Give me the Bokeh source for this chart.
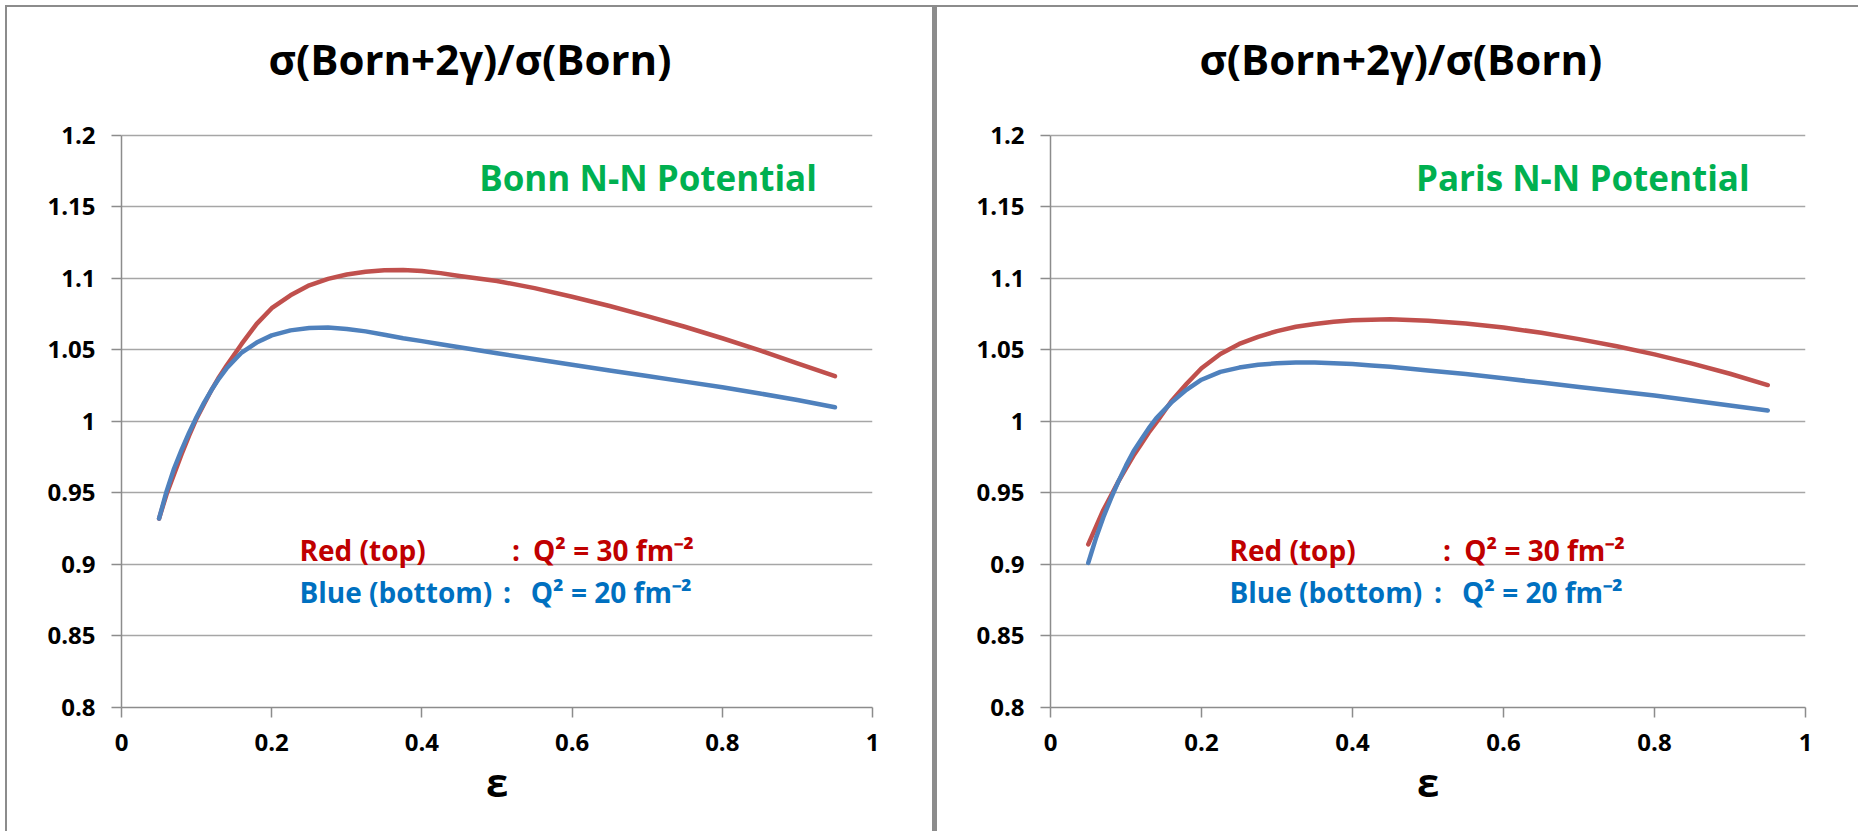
from bokeh.plotting import figure
from bokeh.layouts import row
from bokeh.models import Range1d, FixedTicker, Label
from bokeh.embed import file_html
from bokeh.resources import INLINE

# ---------------- data ----------------
eps = [0.05, 0.06, 0.07, 0.08, 0.09, 0.10, 0.11, 0.12, 0.13, 0.14, 0.16, 0.18,
       0.20, 0.225, 0.25, 0.275, 0.30, 0.325, 0.35, 0.375, 0.40, 0.425, 0.45,
       0.50, 0.55, 0.60, 0.65, 0.70, 0.75, 0.80, 0.85, 0.90, 0.95]

bonn_q30 = [0.932, 0.949, 0.963, 0.977, 0.990, 1.002, 1.012, 1.022, 1.031, 1.039, 1.054, 1.068,
            1.079, 1.088, 1.095, 1.0995, 1.1025, 1.1045, 1.1055, 1.1057, 1.1050, 1.1035, 1.1015,
            1.098, 1.093, 1.087, 1.0805, 1.0735, 1.066, 1.058, 1.0495, 1.0405, 1.0315]
bonn_q20 = [0.932, 0.951, 0.967, 0.980, 0.992, 1.003, 1.013, 1.022, 1.030, 1.037, 1.048, 1.055,
            1.060, 1.0635, 1.0652, 1.0655, 1.0645, 1.0628, 1.0605, 1.058, 1.056, 1.0538, 1.0517,
            1.0475, 1.0435, 1.0395, 1.0355, 1.0316, 1.0277, 1.0237, 1.0194, 1.0148, 1.0098]

paris_q30 = [0.914, 0.926, 0.938, 0.948, 0.958, 0.967, 0.976, 0.984, 0.992, 0.999, 1.014, 1.026,
             1.037, 1.047, 1.054, 1.059, 1.063, 1.066, 1.068, 1.0695, 1.0705, 1.0710, 1.0712,
             1.0703, 1.0683, 1.0655, 1.0618, 1.0574, 1.0524, 1.0467, 1.0403, 1.0332, 1.0253]
paris_q20 = [0.901, 0.918, 0.933, 0.946, 0.958, 0.969, 0.979, 0.987, 0.995, 1.002, 1.013, 1.022,
             1.029, 1.0345, 1.0375, 1.0395, 1.0405, 1.041, 1.041, 1.0405, 1.040, 1.039, 1.038,
             1.0355, 1.033, 1.030, 1.027, 1.024, 1.021, 1.018, 1.0145, 1.011, 1.0075]

y_ticks = [0.8, 0.85, 0.9, 0.95, 1.0, 1.05, 1.1, 1.15, 1.2]
y_tick_labels = ["0.8", "0.85", "0.9", "0.95", "1", "1.05", "1.1", "1.15", "1.2"]
x_ticks = [0.0, 0.2, 0.4, 0.6, 0.8, 1.0]
x_tick_labels = ["0", "0.2", "0.4", "0.6", "0.8", "1"]

title_text = "σ(Born+2γ)/σ(Born)"
x_label = "ε"
potentials = ["Bonn N-N Potential", "Paris N-N Potential"]

RED = "#C0504D"
BLUE = "#4F81BD"
FONT = "Open Sans"
BORDER = "#8c8c8c"
Y_MIN, Y_MAX = 0.8, 1.2
Y_TOP = 1.28  # frame extends above the axis so the chart title sits inside it


def make_panel(q30, q20, pot_name, width, height, mb_left, mb_right, mb_top, mb_bottom, styles):
    p = figure(width=width, height=height, output_backend="svg", toolbar_location=None,
               x_range=Range1d(0, 1), y_range=Range1d(Y_MIN, Y_TOP),
               min_border_left=mb_left, min_border_right=mb_right,
               min_border_top=mb_top, min_border_bottom=mb_bottom,
               styles=styles)
    p.outline_line_color = None
    p.background_fill_color = "white"
    p.border_fill_color = "white"

    # chart title
    p.add_layout(Label(x=0.464, y=1.2535, text=title_text, text_align="center",
                       text_baseline="middle", text_font=FONT, text_font_size="42px",
                       text_font_style="bold", text_color="black"))

    p.xgrid.grid_line_color = None
    p.ygrid.grid_line_color = "#a6a6a6"
    p.ygrid.grid_line_width = 1.5
    p.ygrid.ticker = FixedTicker(ticks=y_ticks)
    p.ygrid.bounds = (0, 1)

    p.yaxis.ticker = FixedTicker(ticks=y_ticks)
    p.yaxis.bounds = (Y_MIN, Y_MAX)
    p.yaxis.major_label_overrides = {t: l for t, l in zip(y_ticks, y_tick_labels)}
    p.xaxis.ticker = FixedTicker(ticks=x_ticks)
    p.xaxis.major_label_overrides = {t: l for t, l in zip(x_ticks, x_tick_labels)}

    for ax in (p.xaxis[0], p.yaxis[0]):
        ax.axis_line_color = "#8c8c8c"
        ax.axis_line_width = 1.5
        ax.major_tick_line_color = "#8c8c8c"
        ax.major_tick_line_width = 1.5
        ax.major_tick_out = 10
        ax.major_tick_in = 0
        ax.minor_tick_line_color = None
        ax.major_label_text_font = FONT
        ax.major_label_text_font_size = "24px"
        ax.major_label_text_font_style = "bold"
        ax.major_label_text_color = "black"
        ax.major_label_standoff = 16

    p.xaxis.axis_label = x_label
    p.xaxis.axis_label_text_font = FONT
    p.xaxis.axis_label_text_font_size = "40px"
    p.xaxis.axis_label_text_font_style = "bold"
    p.xaxis.axis_label_text_color = "black"
    p.xaxis.axis_label_standoff = 0

    p.line(eps, q30, line_color=RED, line_width=4.5, line_join="round", line_cap="round")
    p.line(eps, q20, line_color=BLUE, line_width=4.5, line_join="round", line_cap="round")

    p.add_layout(Label(x=0.926, y=1.170, text=pot_name, text_align="right",
                       text_baseline="alphabetic", text_font=FONT, text_font_size="35px",
                       text_font_style="bold", text_color="#00B050"))

    # annotation of series
    common = dict(text_baseline="alphabetic", text_font=FONT, text_font_size="28px",
                  text_font_style="bold")
    p.add_layout(Label(x=0.237, y=0.910, text="Red (top)", text_color="#C00000", **common))
    p.add_layout(Label(x=0.520, y=0.910, text=":", text_color="#C00000", **common))
    p.add_layout(Label(x=0.548, y=0.910, text="Q² = 30 fm⁻²", text_color="#C00000", **common))
    p.add_layout(Label(x=0.237, y=0.881, text="Blue (bottom)", text_color="#0070C0", **common))
    p.add_layout(Label(x=0.508, y=0.881, text=":", text_color="#0070C0", **common))
    p.add_layout(Label(x=0.545, y=0.881, text="Q² = 20 fm⁻²", text_color="#0070C0", **common))
    return p


left = make_panel(bonn_q30, bonn_q20, potentials[0], 932, 826, 114, 67, 13, 123,
                  {"margin-left": "5px", "margin-top": "5px",
                   "border-left": f"2px solid {BORDER}", "border-top": f"2px solid {BORDER}",
                   "border-right": f"5px solid {BORDER}"})
right = make_panel(paris_q30, paris_q20, potentials[1], 921, 826, 113, 53, 13, 126,
                   {"margin-top": "5px", "border-top": f"2px solid {BORDER}"})

layout = row(left, right, spacing=0)

html = file_html(layout, INLINE, title="sigma ratio")
with open("out.html", "w") as f:
    f.write(html)
